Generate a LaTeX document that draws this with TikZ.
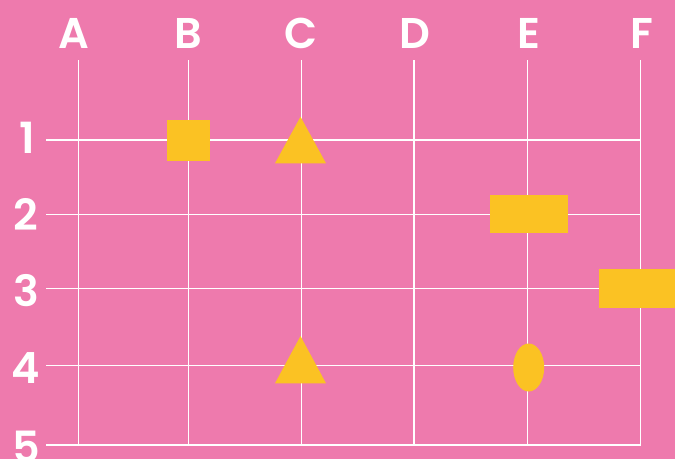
\documentclass[tikz,border=0pt]{standalone}
\usepackage{fontspec}
\setmainfont{Poppins}[BoldFont={Poppins SemiBold}]
\usetikzlibrary{shapes.geometric}
\pgfdeclarelayer{bglayer}
\pgfdeclarelayer{edgelayer}
\pgfdeclarelayer{nodelayer}
\pgfsetlayers{bglayer,edgelayer,nodelayer,main}
\definecolor{bgpink}{HTML}{EE7AAD}
\definecolor{pieceyellow}{HTML}{FBC223}
\tikzstyle{gridline}=[draw=white, line width=1.3pt]
\tikzstyle{axistext}=[text=white, font=\fontsize{43}{43}\selectfont\bfseries, inner sep=0pt, anchor=base]
\tikzstyle{piece}=[fill=pieceyellow, draw=none, inner sep=0pt, outer sep=0pt]

\begin{document}
\begin{tikzpicture}[x=1pt, y=-1pt]
			\useasboundingbox (0, 0) rectangle (675, 459);
			\begin{pgfonlayer}{bglayer}
				\fill [bgpink] (0, 0) rectangle (675, 459);
			\end{pgfonlayer}
			\begin{pgfonlayer}{nodelayer}
				\node [style=axistext] (A) at (74, 48) {A};
				\node [style=axistext] (B) at (188, 48) {B};
				\node [style=axistext] (C) at (301, 48) {C};
				\node [style=axistext] (D) at (415, 48) {D};
				\node [style=axistext] (E) at (529, 48) {E};
				\node [style=axistext] (F) at (642, 48) {F};
				\node [style=axistext] (1) at (27, 153) {1};
				\node [style=axistext] (2) at (26, 230) {2};
				\node [style=axistext] (3) at (26, 306) {3};
				\node [style=axistext] (4) at (26, 383) {4};
				\node [style=axistext] (5) at (26, 462) {5};
				\node [style=piece, minimum width=43pt, minimum height=41pt] (sq) at (188, 140.5) {};
				\node [style=piece, minimum width=78pt, minimum height=38pt] (bar2) at (529, 214) {};
				\node [style=piece, minimum width=80pt, minimum height=39pt] (bar3) at (639, 288.5) {};
				\node [style=piece, ellipse, minimum width=31pt, minimum height=48pt] (oval) at (528.7, 367.5) {};
				\fill [pieceyellow] (300.5, 116.7) -- (326, 163.3) -- (275, 163.3) -- cycle;
				\fill [pieceyellow] (300.5, 336) -- (326, 383.3) -- (275, 383.3) -- cycle;
			\end{pgfonlayer}
			\begin{pgfonlayer}{edgelayer}
				\coordinate (tA) at (78.5, 60);
				\coordinate (tB) at (188.5, 60);
				\coordinate (tC) at (301.5, 60);
				\coordinate (tD) at (414, 60);
				\coordinate (tE) at (527.5, 60);
				\coordinate (tF) at (640.5, 60);
				\coordinate (bA) at (78.5, 445);
				\coordinate (bB) at (188.5, 445);
				\coordinate (bC) at (301.5, 445);
				\coordinate (bD) at (414, 445);
				\coordinate (bE) at (527.5, 445);
				\coordinate (bF) at (640.5, 445);
				\coordinate (l1) at (46, 140);
				\coordinate (l2) at (46, 214.3);
				\coordinate (l3) at (46, 288.3);
				\coordinate (l4) at (46, 365.3);
				\coordinate (l5) at (46, 445);
				\coordinate (r1) at (640.5, 140);
				\coordinate (r2) at (640.5, 214.3);
				\coordinate (r3) at (640.5, 288.3);
				\coordinate (r4) at (640.5, 365.3);
				\coordinate (r5) at (640.5, 445);
				\draw [style=gridline] (tA) to (bA);
				\draw [style=gridline] (tB) to (bB);
				\draw [style=gridline] (tC) to (bC);
				\draw [style=gridline] (tD) to (bD);
				\draw [style=gridline] (tE) to (bE);
				\draw [style=gridline] (tF) to (bF);
				\draw [style=gridline] (l1) to (r1);
				\draw [style=gridline] (l2) to (r2);
				\draw [style=gridline] (l3) to (r3);
				\draw [style=gridline] (l4) to (r4);
				\draw [style=gridline] (l5) to (r5);
			\end{pgfonlayer}
		\end{tikzpicture}
\end{document}
